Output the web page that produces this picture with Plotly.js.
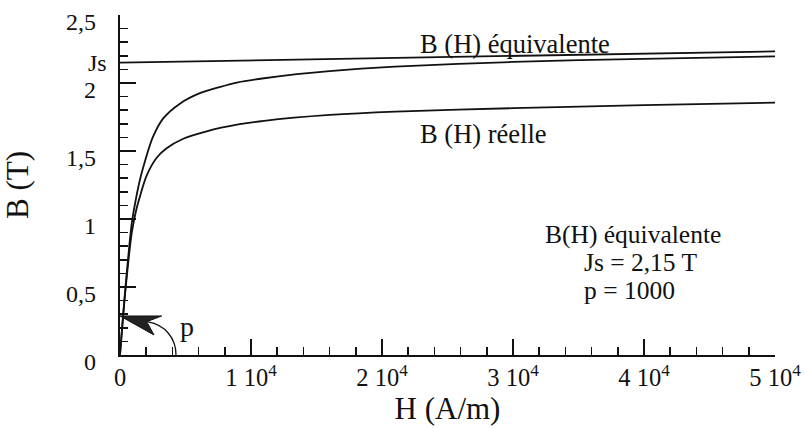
<!DOCTYPE html>
<html>
<head>
<meta charset="utf-8">
<script src="https://cdn.plot.ly/plotly-3.0.1.min.js"></script>
<style>html,body{margin:0;padding:0;background:#fff;}#chart{width:805px;height:428px;}</style>
</head>
<body>
<div id="chart"></div>
<script>
// H in A/m, B in T
const H_js = [0, 10000, 20000, 30000, 40000, 50000];
const B_js = [2.15, 2.166, 2.183, 2.2, 2.216, 2.232];

const H_eq = [0, 400, 900, 1220, 1500, 1800, 2500, 3300, 4600, 6100, 7600, 9000, 11000, 13500, 16000, 21000, 30000, 40000, 50000];
const B_eq = [0, 0.48, 0.97, 1.15, 1.28, 1.39, 1.6, 1.74, 1.85, 1.925, 1.97, 2.005, 2.035, 2.065, 2.088, 2.12, 2.155, 2.178, 2.196];

const H_re = [0, 400, 900, 1200, 1475, 2040, 2800, 3560, 4830, 6620, 9030, 11000, 16000, 21000, 30000, 40000, 50000];
const B_re = [0, 0.46, 0.9, 1.05, 1.15, 1.32, 1.45, 1.52, 1.59, 1.645, 1.695, 1.722, 1.765, 1.79, 1.815, 1.837, 1.856];

const xTickVals = [0, 10000, 20000, 30000, 40000, 50000];
const xTickText = ['0', '1 10<sup>4</sup>', '2 10<sup>4</sup>', '3 10<sup>4</sup>', '4 10<sup>4</sup>', '5 10<sup>4</sup>'];
const yTickVals = [0, 0.5, 1, 1.5, 2, 2.5];
const yTickText = ['0', '0,5', '1', '1,5', '2', '2,5'];
const JS_VALUE = 2.15;

const FONT = 'Liberation Serif';
const INK = '#111';
const lineStyle = {color: INK, width: 1.8, shape: 'spline', smoothing: 0.8};

const traces = [
  {x: H_js, y: B_js, mode: 'lines', line: {color: INK, width: 1.8}, hoverinfo: 'skip'},
  {x: H_eq, y: B_eq, mode: 'lines', line: lineStyle, hoverinfo: 'skip'},
  {x: H_re, y: B_re, mode: 'lines', line: lineStyle, hoverinfo: 'skip'}
];

function txt(size) { return {family: FONT, size: size, color: INK}; }

// y tick labels sit slightly below their ticks in the reference
const yLabelAnnotations = yTickVals.map((v, i) => ({
  xref: 'paper', yref: 'y', x: 0, y: v, xanchor: 'right', yanchor: 'middle',
  xshift: -22, yshift: -7, text: yTickText[i], showarrow: false, font: txt(24)
}));

const layout = {
  width: 805, height: 428,
  margin: {l: 120, r: 30, t: 15, b: 73},
  paper_bgcolor: '#fff', plot_bgcolor: '#fff',
  showlegend: false,
  font: txt(24),
  xaxis: {
    showgrid: false, zeroline: false, showline: true, linecolor: INK, linewidth: 2,
    ticks: 'inside', ticklen: 16, tickwidth: 1.5, tickcolor: INK,
    tickfont: txt(24.5),
    tickmode: 'array', tickvals: xTickVals, ticktext: xTickText,
    range: [0, 50000],
    minor: {dtick: 2000, ticks: 'inside', ticklen: 8, tickwidth: 1.5, tickcolor: INK},
    title: {text: 'H (A/m)', font: txt(31), standoff: 2}
  },
  yaxis: {
    showgrid: false, zeroline: false, showline: true, linecolor: INK, linewidth: 2,
    ticks: 'inside', ticklen: 16, tickwidth: 1.5, tickcolor: INK,
    showticklabels: false,
    tickmode: 'array', tickvals: yTickVals,
    range: [0, 2.5],
    minor: {dtick: 0.1, ticks: 'inside', ticklen: 8, tickwidth: 1.5, tickcolor: INK},
    title: {text: 'B (T)', font: txt(31), standoff: 81}
  },
  annotations: yLabelAnnotations.concat([
    {xref: 'paper', yref: 'y', x: 0, y: JS_VALUE, xanchor: 'right', yanchor: 'middle', xshift: -11, text: 'Js', showarrow: false, font: txt(24)},
    {xref: 'x', yref: 'y', x: 22750, y: 2.29, xanchor: 'left', yanchor: 'middle', text: 'B (H) équivalente', showarrow: false, font: txt(26.5)},
    {xref: 'x', yref: 'y', x: 22750, y: 1.625, xanchor: 'left', yanchor: 'middle', text: 'B (H) réelle', showarrow: false, font: txt(26.5)},
    {xref: 'x', yref: 'y', x: 32290, y: 0.886, xanchor: 'left', yanchor: 'middle', text: 'B(H) équivalente', showarrow: false, font: txt(25.5)},
    {xref: 'x', yref: 'y', x: 35270, y: 0.680, xanchor: 'left', yanchor: 'middle', text: 'Js = 2,15 T', showarrow: false, font: txt(25.5)},
    {xref: 'x', yref: 'y', x: 35270, y: 0.474, xanchor: 'left', yanchor: 'middle', text: 'p = 1000', showarrow: false, font: txt(25.5)},
    {xref: 'x', yref: 'y', x: 5110, y: 0.206, xanchor: 'center', yanchor: 'middle', text: 'p', showarrow: false, font: txt(28)}
  ]),
  shapes: [
    {type: 'path', xref: 'x', yref: 'y', path: 'M 2137,0.243 C 3435,0.221 4275,0.125 4275,0', line: {color: INK, width: 1.3}},
    {type: 'path', xref: 'x', yref: 'y', path: 'M 0,0.287 L 3180,0.287 L 2040,0.245 L 2600,0.147 Z', fillcolor: '#222', line: {color: INK, width: 1}}
  ]
};

Plotly.newPlot('chart', traces, layout, {staticPlot: true, displayModeBar: false});
</script>
</body>
</html>
